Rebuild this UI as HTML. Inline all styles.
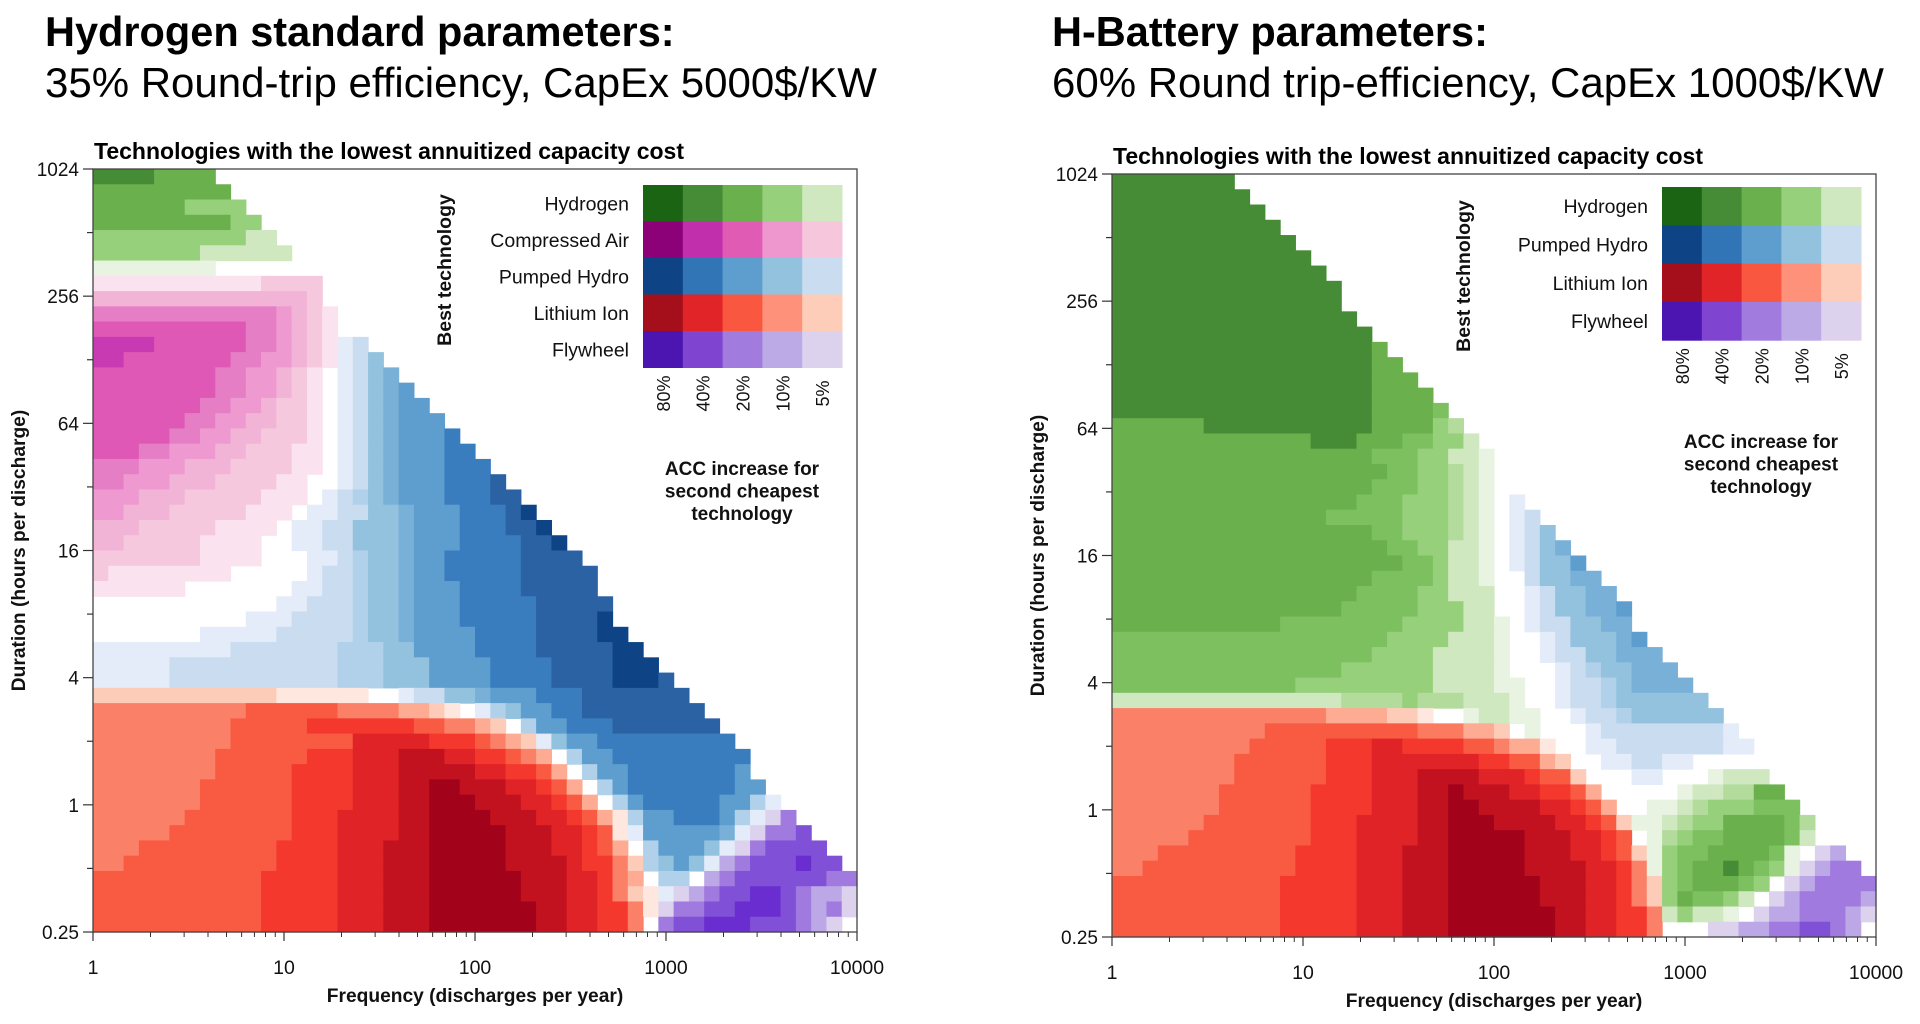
<!DOCTYPE html>
<html><head><meta charset="utf-8"><style>
html,body{margin:0;padding:0;background:#fff;}
svg{display:block;font-family:"Liberation Sans",Arial,sans-serif;}
</style></head><body>
<svg id="root" width="1920" height="1024" viewBox="0 0 1920 1024" xmlns="http://www.w3.org/2000/svg">
<text x="45" y="46" font-size="41.5" font-weight="bold" fill="#000">Hydrogen standard parameters:</text>
<text x="45" y="97" font-size="42" fill="#000">35% Round-trip efficiency, CapEx 5000$/KW</text>
<text x="1052" y="46" font-size="41.5" font-weight="bold" fill="#000">H-Battery parameters:</text>
<text x="1052" y="97" font-size="42" fill="#000">60% Round trip-efficiency, CapEx 1000$/KW</text>
</svg>
<script>
const NS="http://www.w3.org/2000/svg";
const root=document.getElementById('root');
const palette={a:'#1b6414',b:'#468b36',c:'#6ab04c',C:'#7cc060',d:'#97d07a',D:'#b3dc9c',e:'#cfe8c0',E:'#e8f3e2',
g:'#c83ab2',h:'#df58b6',H:'#e67ec6',i:'#ee9ad0',I:'#f2b4d6',j:'#f6c8dd',J:'#fae3ee',
k:'#0e4486',K:'#2a62a4',l:'#3a7dbf',m:'#5d9ecf',M:'#79b0d8',n:'#93c2df',N:'#b1d1ea',o:'#c9dcf0',O:'#e3ecf8',
p:'#a2031b',P:'#c3121f',q:'#e02326',Q:'#f4382e',r:'#f85a42',R:'#fb7a60',s:'#fb8068',S:'#fdab92',t:'#fdccb9',T:'#fee7df',
u:'#6a2ed0',v:'#8050d6',w:'#a07ade',x:'#bca8e6',y:'#ddd2ee'};

const leftRows=["b4c4.42","c9.41","c6d4.40","c9d2.39","d10e2.38","d7e6.37","E8.42","J11j4.35","I14j1.35","H12i1I1j1J1.34",
"h10H2i1I1j1J1.34","g4h6H2i1I1j1J1O1o1.32","g2h7H2i2I1j1J1O1o1n1.31","h8H2i2I1j1J1.1O1o1n1M1.30","h8H2i2I1j1J1.1O1o1n1M1m1.29",
"h7H2i2I1j2J1.1O1o1n1M1m2.28","h6H2i2I2j2J1.1O1o1n1M1m3.27","h5H2i2I2j3J1.1O1o1n1M1m3l1.26","h3H2i3I2j3J2.1O1o1n1M1m3l2.25","H3i3I3j4J2.1O1o1n1M1m3l3.24",
"H2i3I3j4J2.2O1o1n1M1m3l3K1.23","i3I3j5J3.1O1o1N1n1M1m3l3K2.22","i2I3j5J3.1O2o2n2M1m3l3K1k1.21","I3j5J4.1O2o2n3M1m3l3K2k1.20","I2j5J4.2O2o2n3M1m3l4K2k1.19",
"j7J4.3O2o1N1n2M1m2l5K4.18","j1J8.5O1o2N1n2M1m2l5K5.17","J6.7O2o2N1n2M1m3l4K5.17",".12O2o3N1n2M1m3l5K5.16",".10O3o4N1n2M1m3l5K4k1.16",
".7O5o5N1n2M1m4l4K4k2.15","O9o7N3n2m4l4K5k2.14","O5o11N3n3m4l4K4k3.13","O5o11N3n3m4l4K4k3K1.12","t12T6.2O1o2n2M1m3l3K7.11",
"s10r6s4S2t1T1.1O1N1n1m2l2K8.10","s9r5Q7r2s2S1t1.1N1m2l3K7.9","s9r8q5Q3r1s1S1t1O1n1m2l9.8","s8r6Q3q3P3q2Q2r1s1S1.1N1m2l9.7","s8r5Q4q3P5q2Q2r1S1.1N1m2l7m1.7",
"s7r6Q4q3P2p2P3q2Q1r1S1.1N1m1l7m2.6","s7r6Q4q3P2p3P3q2Q1r1S1.1N1m1l5m2N1O1.5","s6r7Q3q4P2p4P3q2Q1r1S1T1N1m2l3m1N1O1y1w1.4","s5r8Q3q4P2p5P3q2Q1r1T1O1m5M1O1y1w2v1.3","s3r9Q4q3P3p5P3q2Q1r1S1.1N1m3n1O1y1w1v4.2",
"s2r10Q4q3P3p5P4q1Q2s1t1N1n1m1n1O1x1w1v3u1v2.1","r11Q5q3P3p6P3q2Q1s1S1.1N2.1x1w1v6w2","r11Q5q3P3p6P3q2Q1s1t1T1O1y1x1w1v2u2v1w1x2y1","r11Q5q3P3p7P2q2Q2s1T1y1w2v2u3v1w1x1w1y1","r11Q5q3P3p7P2q2Q2s1.1w1v2u3v3w1x1y1.1"];

const rightRows=["b8.42","b9.41","b10.40","b11.39","b12.38","b13.37","b14.36","b15.35","b15.35","b16.34",
"b17.33","b17c1.32","b17c2.31","b17c3.30","b17c4.29","b17c4C1.28","c6b11c4d1D1.27","c13b3c3C2d2e1.26","c17C3d2e2E1.25","c18C2d2D1e1E1.25",
"c17C3d2D1e1E1.25","c16C3d3D1e1E1.1O1.23","c14C5d3D1e1E1.1O1o1.22","c17C2d3D1e1E1.1O1o1n1.21","c18C2d2e2E1.1O1o1n1M1.20",
"c19C2d1e2E1.1O1o1n2m1.19","c17C4d1e2E1.2o1n2M2.18","c16C4d2e3.2O1o1n2M2.17","c15C5d3e2.2O1o1n2M2m1.16","c11C8d4e2E1.1O1o2n2M2.16",
"C18d4e3E1.2O1o1n3M1m1.15","C17d4e4E1.2O1o2n2M3.14","C15d6e4E1.3O1o1N1n2M3.13","C12d9e4E2.2O1o2N1n1M4.12","e15D4d1D3e3E1.2O1o2N1n6.11",
"s14S4t2T1.2E1e2E2.2O1o2N1n6.10","s10r10R3S2t1.1E1.3O1o8O1.9","s9r5Q3q2Q4r2s1S2T1.2O2o7O2.8","s8r6Q3q7Q2r2S1t1.2O2o2O2.12","s8r6Q3q3P4q3Q1r2t1.3O2.3E1e3.7",
"s7r6Q4q3P2p1P3q2Q2r1S1.5E1e2D2c2.6","s7r6Q4q3P2p2P4q2Q1r1S1.2E2e1D1d3C3.5","s6r7Q3q4P2p3P4q2Q1r1t1E2e1D1d2c4C1D1.4","s5r8Q3q4P2p5P3q2Q1r1.1E1D1d1C2c4C1e1.4","s3r9Q4q3P3p5P3q2Q1r1t1E1d1C2c4C1E1.1y1x1.2",
"s2r10Q4q3P3p5P4q2Q1s1E1d1C1c2b1c1C1d1E1y1x1w2.1","r11Q5q3P3p6P3q2Q1s1t1d1C1c3C1d1.1y1x1w4","r11Q5q3P3p6P3q2Q1s1t1d1c1C2d1e1.1y1x1w4x1","r11Q5q3P3p7P2q2Q2s1e1d1e2E1.1y1x2w3x1y1","r11Q5q3P3p7P2q2Q2s1.3y2x2w2v2w1x1.1"];

const yTickValues=[0.25,0.5,1,2,4,8,16,32,64,128,256,512,1024];
const yTickLabels=["0.25","","1","","4","","16","","64","","256","","1024"];
const xTickValues=[1,10,100,1000,10000];
const xTickLabels=["1","10","100","1000","10000"];
const legendLevels=["80%","40%","20%","10%","5%"];
const legendTechLeft=["Hydrogen","Compressed Air","Pumped Hydro","Lithium Ion","Flywheel"];
const legendTechRight=["Hydrogen","Pumped Hydro","Lithium Ion","Flywheel"];
const legendColorsLeft=[["#1b6414","#468b36","#6ab04c","#97d07a","#cfe8c0"],["#8c0078","#c12fad","#e05cb4","#ee97cf","#f6c6dc"],["#0e4486","#3175b6","#5d9ecf","#93c2df","#c9dcf0"],["#a50f1b","#e12427","#fa5740","#fd9179","#fdcdb9"],["#4c14b0","#7f44d0","#a17bde","#bcaae6","#ddd2ee"]];
const legendColorsRight=[legendColorsLeft[0],legendColorsLeft[2],legendColorsLeft[3],legendColorsLeft[4]];

function mk(tag,attrs,parent){const e=document.createElementNS(NS,tag);for(const k in attrs)e.setAttribute(k,attrs[k]);(parent||root).appendChild(e);return e;}
function txt(s,attrs,parent){const e=mk('text',attrs,parent);e.textContent=s;return e;}

function drawChart(cfg){
  const g=mk('g',{});
  
  
  const L=cfg.L,T=cfg.T,W=764,H=763,N=50;
  const xCell=i=>L+i*W/N, yCell=r=>T+r*H/N;
  const xLog=v=>L+Math.log10(v)/4*W;
  const yLog=v=>T+H-(Math.log2(v)-Math.log2(0.25))/12*H;
  const cg=mk('g',{},g);
  
  
  cfg.rows.forEach((row,r)=>{
    let col=0;const re=/([A-Za-z.])(\d+)/g;let m;
    while((m=re.exec(row))){
      const ch=m[1],n=+m[2];
      if(ch!=='.'&&palette[ch]){
        const rc=mk('rect',{x:xCell(col).toFixed(2),y:yCell(r).toFixed(2),width:(W/N*n+0.6).toFixed(2),height:(H/N+0.6).toFixed(2),fill:palette[ch]},cg);
        
        
      }
      col+=n;
    }
  });
  const fr=mk('rect',{x:L,y:T,width:W,height:H,fill:'none',stroke:'#444','stroke-width':1.3},g);
  
  
  yTickValues.forEach((v,i)=>{
    const y=yLog(v),lab=yTickLabels[i];
    mk('line',{x1:L,x2:L-(lab?10:6),y1:y,y2:y,stroke:'#333','stroke-width':1.2},g);
    if(lab){const t=txt(lab,{x:L-14,y:y+7,'font-size':19,'text-anchor':'end',fill:'#111'},g);
      
      }
  });
  for(let d=0;d<4;d++)for(let k=2;k<10;k++){const x=xLog(k*Math.pow(10,d));mk('line',{x1:x,x2:x,y1:T+H,y2:T+H+5,stroke:'#333','stroke-width':1},g);}
  xTickValues.forEach((v,i)=>{
    const x=xLog(v);
    mk('line',{x1:x,x2:x,y1:T+H,y2:T+H+9,stroke:'#333','stroke-width':1.2},g);
    const t=txt(xTickLabels[i],{x:x,y:T+H+42,'font-size':19.5,'text-anchor':'middle',fill:'#111'},g);
    
    
  });
  const tt=txt('Technologies with the lowest annuitized capacity cost',{x:L+1,y:T-10,'font-size':23,'font-weight':'bold',fill:'#000'},g);
  
  
  const xt=txt('Frequency (discharges per year)',{x:L+W/2,y:T+H+70,'font-size':19.2,'font-weight':'bold','text-anchor':'middle',fill:'#111'},g);
  
  
  const yt=txt('Duration (hours per discharge)',{x:0,y:0,'font-size':19.2,'font-weight':'bold','text-anchor':'middle',fill:'#111',transform:'translate('+(L-68)+','+(T+H/2)+') rotate(-90)'},g);
  
  
  const lg=mk('g',{},g);
  
  
  const lx=cfg.legX,ly=cfg.legY,cw=39.8,rh=cfg.rowH;
  cfg.techs.forEach((name,r)=>{
    cfg.colors[r].forEach((c,k)=>{
      const sw=mk('rect',{x:lx+k*cw,y:ly+r*rh,width:cw+0.5,height:rh+0.5,fill:c},lg);
      
      
    });
    const t=txt(name,{x:lx-14,y:ly+r*rh+rh/2+7,'font-size':19.5,'text-anchor':'end',fill:'#111'},lg);
    
    
  });
  const lb=ly+cfg.techs.length*rh;
  legendLevels.forEach((p,k)=>{
    const t=txt(p,{x:0,y:0,'font-size':18,'text-anchor':'middle',fill:'#111',transform:'translate('+(lx+k*cw+cw/2+7)+','+(lb+26)+') rotate(-90)'},lg);
    
    
  });
  const bt=txt('Best technology',{x:0,y:0,'font-size':19.5,'font-weight':'bold','text-anchor':'middle',fill:'#111',transform:'translate('+(lx-192)+','+cfg.bestY+') rotate(-90)'},lg);
  
  
  ['ACC increase for','second cheapest','technology'].forEach((s,i)=>{
    const t=txt(s,{x:lx+99,y:cfg.accY+i*22.5,'font-size':19,'font-weight':'bold','text-anchor':'middle',fill:'#111'},lg);
    
    
  });
}
drawChart({name:'hydrogen',L:93,T:169,rows:leftRows,techs:legendTechLeft,colors:legendColorsLeft,legX:643,legY:185,rowH:36.5,bestY:270,accY:475});
drawChart({name:'h-battery',L:1112,T:174,rows:rightRows,techs:legendTechRight,colors:legendColorsRight,legX:1662,legY:187,rowH:38.3,bestY:276,accY:448});
</script>
</body></html>
